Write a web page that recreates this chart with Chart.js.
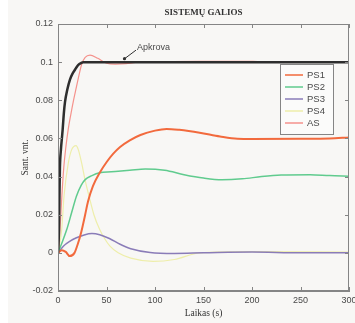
<!DOCTYPE html>
<html>
<head>
<meta charset="utf-8">
<script src="https://cdn.jsdelivr.net/npm/chart.js@4"></script>
<style>
    html, body { margin: 0; padding: 0; background: #ffffff; }
    #wrap { width: 355px; height: 323px; }
</style>
</head>
<body>
<div id="wrap"><canvas id="myChart" width="355" height="323"></canvas></div>
<script>
// Time (s) and values, one pair of arrays per curve
const tApkrova = [0, 0.5, 1, 1.5, 2, 3, 4, 4.8, 6, 7.2, 9.6, 12.4, 15, 17.5, 20, 22, 26, 30, 300];
const apkrova  = [0, 0.004, 0.012, 0.03, 0.045, 0.054, 0.06, 0.0646, 0.073, 0.079, 0.0856, 0.091, 0.094, 0.096, 0.098, 0.099, 0.1, 0.1, 0.1];

const tPS1 = [0, 4, 8, 12, 17, 20, 24, 28, 31, 36, 43, 50, 57, 64, 74, 85, 100, 112, 125, 146, 167, 185, 200, 250, 280, 300];
const ps1  = [0, 0.0014, 0.0005, -0.0017, 0, 0.004, 0.011, 0.02, 0.027, 0.035, 0.042, 0.0475, 0.052, 0.0555, 0.059, 0.0618, 0.0641, 0.065, 0.0645, 0.063, 0.061, 0.0598, 0.0597, 0.0598, 0.06, 0.0605];

const tPS2 = [0, 5, 9, 14, 19, 24, 28, 35, 43, 55, 74, 90, 110, 130, 150, 169, 190, 210, 230, 260, 280, 300];
const ps2  = [0, 0.0065, 0.0122, 0.021, 0.0297, 0.0355, 0.0384, 0.0405, 0.042, 0.0425, 0.0433, 0.044, 0.0433, 0.041, 0.0392, 0.0383, 0.0388, 0.04, 0.0408, 0.041, 0.0405, 0.0402];

const tPS3 = [0, 5.5, 12, 19, 27, 35, 43, 53, 64, 75, 95, 120, 150, 200, 250, 300];
const ps3  = [0, 0.0035, 0.006, 0.0079, 0.0094, 0.0101, 0.0095, 0.0075, 0.0045, 0.0022, 0.0002, -0.0003, 0, 0.0004, 0, 0];

const tPS4 = [0, 3.8, 6.2, 10.6, 14, 18.6, 21, 24.4, 28, 32, 37, 43, 48, 53.6, 62, 75, 98, 120, 146, 200, 300];
const ps4  = [0, 0.0122, 0.0297, 0.047, 0.054, 0.0562, 0.054, 0.047, 0.038, 0.0297, 0.02, 0.0122, 0.0075, 0.0035, 0, -0.0028, -0.0045, -0.0035, 0, 0.0006, 0.0004];

const tAS = [0, 2, 4, 6, 8, 10.6, 13, 16, 19, 22, 24.5, 28, 33, 41, 50, 59, 70, 80, 90, 146, 175, 201, 220, 300];
const as  = [0, 0.012, 0.03, 0.045, 0.055, 0.065, 0.072, 0.08, 0.087, 0.094, 0.099, 0.1025, 0.1037, 0.102, 0.0995, 0.099, 0.0992, 0.0998, 0.1, 0.1004, 0.1004, 0.1004, 0.1, 0.1];

const xTicks = [0, 50, 100, 150, 200, 250, 300];
const yTicks = [-0.02, 0, 0.02, 0.04, 0.06, 0.08, 0.1, 0.12];
const yTickLabels = ['-0.02', '0', '0.02', '0.04', '0.06', '0.08', '0.1', '0.12'];
const legendLabels = ['PS1', 'PS2', 'PS3', 'PS4', 'AS'];
const arrowAt = [67, 0.1]; // where the "Apkrova" arrow touches the load curve

const pts = (t, v) => t.map((x, i) => ({ x: x, y: v[i] }));

const frameColor = '#858585';
const textColor = '#4a4a4a';

const extras = {
    id: 'extras',
    beforeDraw(chart) {
        const { ctx, width, height } = chart;
        ctx.save();
        ctx.fillStyle = '#ffffff';
        ctx.fillRect(0, 0, width, height);
        ctx.fillStyle = '#f8f7f5';
        ctx.fillRect(8, 0, width - 8, height);
        ctx.restore();
    },
    afterDatasetsDraw(chart) {
        const { ctx, chartArea: a, scales } = chart;
        ctx.save();

        // box round the plot + inward ticks on all sides
        ctx.strokeStyle = frameColor;
        ctx.lineWidth = 1;
        ctx.strokeRect(Math.round(a.left) + 0.5, Math.round(a.top) + 0.5,
            Math.round(a.right - a.left) - 1, Math.round(a.bottom - a.top) - 1);
        ctx.beginPath();
        xTicks.forEach(v => {
            const px = Math.round(scales.x.getPixelForValue(v)) + 0.5;
            ctx.moveTo(px, a.bottom); ctx.lineTo(px, a.bottom - 4);
            ctx.moveTo(px, a.top); ctx.lineTo(px, a.top + 4);
        });
        yTicks.forEach(v => {
            const py = Math.round(scales.y.getPixelForValue(v)) + 0.5;
            ctx.moveTo(a.left, py); ctx.lineTo(a.left + 4, py);
            ctx.moveTo(a.right, py); ctx.lineTo(a.right - 4, py);
        });
        ctx.stroke();

        // "Apkrova" label with arrow
        const ax = scales.x.getPixelForValue(arrowAt[0]);
        const ay = scales.y.getPixelForValue(arrowAt[1]);
        ctx.strokeStyle = '#333';
        ctx.beginPath();
        ctx.moveTo(ax + 1, ay - 3);
        ctx.lineTo(ax + 13, ay - 12);
        ctx.stroke();
        ctx.fillStyle = '#333';
        ctx.beginPath();
        ctx.arc(ax + 1.5, ay - 3.5, 1.6, 0, Math.PI * 2);
        ctx.fill();
        ctx.fillStyle = textColor;
        ctx.font = '9px "Liberation Sans", Arial, sans-serif';
        ctx.textBaseline = 'middle';
        ctx.textAlign = 'left';
        ctx.fillText('Apkrova', ax + 14, ay - 15);

        // legend box
        const lx = a.right - 69, ly = a.top + 40, lw = 53, lh = 70;
        ctx.fillStyle = '#fbfbfa';
        ctx.fillRect(lx, ly, lw, lh);
        ctx.strokeStyle = frameColor;
        ctx.strokeRect(Math.round(lx) + 0.5, Math.round(ly) + 0.5, lw, lh);
        ctx.font = '9.5px "Liberation Sans", Arial, sans-serif';
        legendLabels.forEach((lab, i) => {
            const ds = chart.data.datasets.find(d => d.label === lab);
            const yy = ly + 11 + i * 12;
            ctx.strokeStyle = ds.borderColor;
            ctx.lineWidth = 1.5;
            ctx.beginPath();
            ctx.moveTo(lx + 5, yy); ctx.lineTo(lx + 23, yy);
            ctx.stroke();
            ctx.fillStyle = textColor;
            ctx.fillText(lab, lx + 27, yy);
        });

        // title
        ctx.fillStyle = '#333';
        ctx.font = 'bold 9px "Liberation Serif", "Times New Roman", serif';
        ctx.textAlign = 'center';
        ctx.fillText('SISTEMŲ GALIOS', (a.left + a.right) / 2, 13);
        ctx.restore();
    }
};

document.addEventListener('DOMContentLoaded', function () {
    let ctx = document.getElementById('myChart').getContext('2d');
    new Chart(ctx, {
        type: 'line',
        data: {
            datasets: [
                { label: 'Apkrova', data: pts(tApkrova, apkrova), borderColor: '#2e2e2e', borderWidth: 2.5, order: 0 },
                { label: 'PS1', data: pts(tPS1, ps1), borderColor: '#f26a3d', borderWidth: 2, order: 1 },
                { label: 'PS2', data: pts(tPS2, ps2), borderColor: '#60cb8e', borderWidth: 1.5, order: 2 },
                { label: 'PS3', data: pts(tPS3, ps3), borderColor: '#8a7cb8', borderWidth: 1.5, order: 4 },
                { label: 'PS4', data: pts(tPS4, ps4), borderColor: '#eeeeaa', borderWidth: 1.2, order: 5 },
                { label: 'AS', data: pts(tAS, as), borderColor: '#f5928c', borderWidth: 1.2, order: 3 }
            ]
        },
        options: {
            responsive: false,
            animation: false,
            elements: {
                point: { radius: 0 },
                line: { cubicInterpolationMode: 'monotone', fill: false }
            },
            layout: { padding: { top: 24, right: 6, left: 0, bottom: 0 } },
            plugins: {
                legend: { display: false },
                title: { display: false },
                tooltip: { enabled: false }
            },
            scales: {
                x: {
                    type: 'linear',
                    min: 0,
                    max: 300,
                    afterBuildTicks: s => { s.ticks = xTicks.map(v => ({ value: v })); },
                    afterFit: s => { s.height = 32; s.paddingLeft = 0; s.paddingRight = 0; },
                    ticks: {
                        color: textColor,
                        padding: 4,
                        maxRotation: 0,
                        autoSkip: false,
                        font: { family: '"Liberation Sans", Arial, sans-serif', size: 9 }
                    },
                    grid: { display: false, drawTicks: false },
                    border: { display: true, color: frameColor },
                    title: {
                        display: true,
                        text: 'Laikas (s)',
                        color: '#333',
                        padding: { top: 0, bottom: 4 },
                        font: { family: '"Liberation Serif", "Times New Roman", serif', size: 9.5 }
                    }
                },
                y: {
                    type: 'linear',
                    min: -0.02,
                    max: 0.12,
                    afterBuildTicks: s => { s.ticks = yTicks.map(v => ({ value: v })); },
                    afterFit: s => { s.width = 58; s.paddingTop = 0; s.paddingBottom = 0; },
                    ticks: {
                        color: textColor,
                        padding: 5,
                        autoSkip: false,
                        font: { family: '"Liberation Sans", Arial, sans-serif', size: 9 },
                        callback: value => yTickLabels[yTicks.indexOf(value)]
                    },
                    grid: { display: false, drawTicks: false },
                    border: { display: true, color: frameColor },
                    title: {
                        display: true,
                        text: 'Sant. vnt.',
                        color: '#333',
                        padding: { top: 20, bottom: 0 },
                        font: { family: '"Liberation Serif", "Times New Roman", serif', size: 9.5 }
                    }
                }
            }
        },
        plugins: [extras]
    });
});
</script>
</body>
</html>
